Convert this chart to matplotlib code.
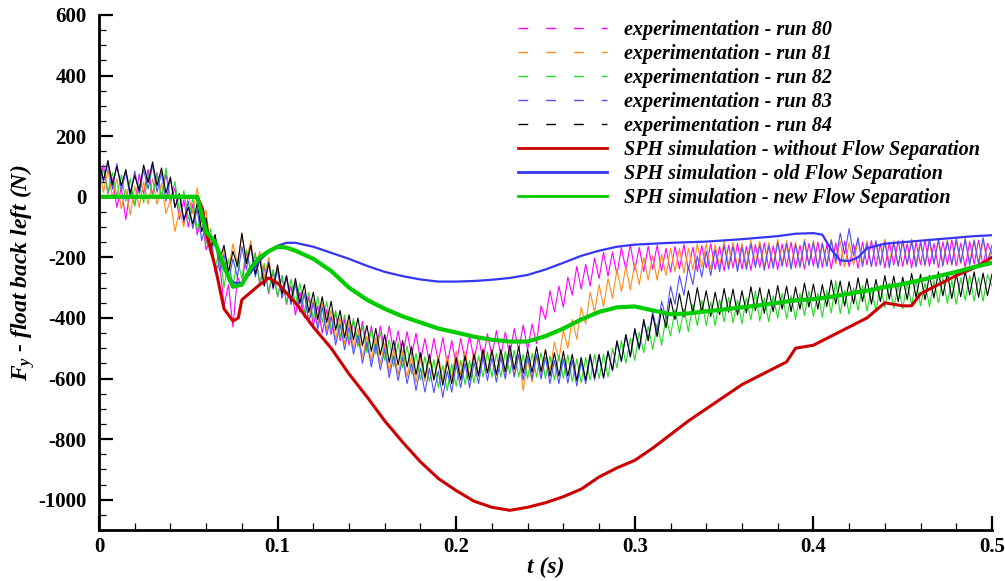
import numpy as np
import matplotlib
matplotlib.use("Agg")
import matplotlib.pyplot as plt
from matplotlib.lines import Line2D
from matplotlib.ticker import MultipleLocator

plt.rcParams["font.family"] = ["Liberation Serif", "DejaVu Serif"]
plt.rcParams["font.weight"] = "bold"
plt.rcParams["axes.unicode_minus"] = False
plt.rcParams["mathtext.fontset"] = "custom"
plt.rcParams["mathtext.it"] = "Liberation Serif:italic:bold"
plt.rcParams["mathtext.rm"] = "Liberation Serif:italic:bold"

# experiment time grid: 0 .. 0.5 s every 0.0025 s (201 samples)
t_exp = np.linspace(0.0, 0.5, 201)

run80 = [35, 105, 10, 60, -35, 30, -75, 25, -30, 75, 10, 90, 5, 80, 0, 75, -20, 30, -75, -10,
         -100, -25, -125, -70, -175, -135, -250, -215, -360, -290, -430, -265, -295, -180, -245, -185, -290, -230, -320, -245,
         -330, -260, -355, -295, -390, -315, -400, -330, -425, -360, -450, -372, -455, -382, -475, -405, -490, -410, -490, -412,
         -500, -427, -510, -427, -505, -427, -515, -443, -525, -445, -525, -450, -540, -468, -550, -467, -545, -465, -550, -475,
         -555, -468, -540, -458, -540, -463, -540, -452, -525, -442, -525, -447, -523, -435, -507, -423, -505, -420, -485, -360,
         -405, -310, -380, -295, -365, -265, -325, -230, -305, -223, -295, -202, -270, -183, -262, -182, -257, -168, -240, -158,
         -242, -167, -247, -163, -239, -160, -245, -170, -249, -164, -238, -158, -242, -167, -246, -161, -235, -155, -240, -165,
         -245, -160, -235, -154, -239, -164, -243, -158, -233, -152, -237, -162, -241, -156, -231, -150, -235, -160, -239, -154,
         -229, -149, -233, -158, -238, -152, -227, -147, -231, -156, -236, -150, -225, -145, -230, -155, -235, -150, -225, -145,
         -230, -155, -235, -150, -224, -144, -229, -154, -234, -149, -223, -143, -228, -153, -233, -148, -223, -143, -228, -153,
         -190]
run81 = [95, 15, 90, 0, 60, -40, 25, -60, 35, -35, 50, -25, 60, -25, 45, -55, -10, -115, -45, -100,
         5, -55, 30, -75, -45, -170, -125, -235, -170, -245, -155, -220, -125, -210, -145, -245, -180, -270, -200, -295,
         -230, -330, -265, -355, -285, -380, -315, -410, -340, -425, -350, -440, -375, -470, -400, -485, -410, -500, -435, -530,
         -460, -542, -465, -552, -485, -577, -505, -587, -510, -595, -525, -613, -535, -610, -525, -603, -525, -607, -525, -598,
         -510, -587, -510, -593, -512, -586, -500, -580, -505, -590, -511, -588, -505, -590, -520, -640, -535, -612, -525, -595,
         -505, -575, -480, -540, -440, -500, -405, -470, -365, -420, -315, -380, -290, -363, -270, -335, -240, -313, -230, -307,
         -220, -290, -200, -275, -195, -275, -190, -260, -170, -247, -170, -252, -170, -242, -155, -233, -155, -239, -158, -232,
         -146, -225, -150, -234, -154, -228, -143, -222, -147, -231, -151, -226, -140, -220, -145, -230, -150, -225, -140, -220,
         -145, -230, -150, -225, -140, -221, -146, -231, -151, -226, -141, -221, -146, -230, -150, -225, -140, -220, -145, -230,
         -150, -225, -139, -219, -144, -229, -148, -223, -138, -218, -142, -227, -147, -222, -136, -216, -141, -226, -145, -220,
         -175]
run82 = [30, 92, 15, 80, 0, 72, -15, 60, -30, 42, -20, 72, 0, 75, -5, 95, -10, 50, -45, 20,
         -75, -5, -110, -55, -155, -105, -235, -175, -300, -205, -295, -205, -270, -175, -245, -185, -285, -220, -315, -240,
         -330, -262, -350, -272, -355, -285, -380, -315, -405, -330, -415, -345, -440, -375, -465, -390, -475, -402, -495, -427,
         -515, -437, -520, -447, -540, -472, -560, -482, -565, -492, -585, -517, -605, -527, -610, -537, -630, -557, -640, -552,
         -625, -540, -620, -540, -615, -525, -595, -512, -595, -517, -595, -510, -585, -507, -595, -520, -600, -517, -595, -515,
         -600, -525, -605, -522, -600, -522, -610, -535, -615, -530, -605, -520, -600, -520, -595, -500, -565, -475, -550, -467,
         -540, -447, -515, -427, -505, -420, -490, -395, -460, -372, -450, -370, -445, -355, -425, -342, -425, -347, -425, -339,
         -413, -332, -416, -340, -419, -333, -407, -311, -410, -334, -413, -327, -401, -319, -403, -326, -405, -318, -392, -311,
         -395, -318, -397, -310, -384, -277, -386, -309, -388, -301, -375, -293, -377, -300, -379, -292, -366, -284, -368, -291,
         -370, -283, -357, -276, -360, -284, -363, -276, -350, -268, -352, -276, -355, -268, -342, -260, -344, -267, -345, -257,
         -295]
run83 = [130, 50, 110, 25, 110, 20, 80, 0, 85, 10, 90, 25, 105, 15, 80, -15, 60, -35, 10, -85,
         -15, -105, -40, -145, -85, -190, -135, -245, -190, -280, -205, -265, -165, -240, -160, -265, -205, -290, -215, -305,
         -240, -335, -265, -355, -285, -380, -320, -417, -350, -437, -365, -457, -395, -490, -420, -505, -430, -520, -455, -550,
         -480, -562, -485, -572, -505, -597, -525, -607, -530, -617, -550, -640, -565, -645, -565, -647, -575, -662, -575, -645,
         -555, -630, -550, -630, -545, -617, -530, -607, -530, -612, -530, -602, -515, -595, -520, -605, -525, -602, -520, -602,
         -530, -617, -540, -617, -535, -615, -540, -625, -545, -617, -530, -605, -525, -600, -510, -575, -480, -545, -455, -530,
         -440, -505, -410, -475, -380, -445, -345, -400, -295, -355, -260, -325, -230, -290, -195, -265, -180, -260, -175, -247,
         -160, -239, -163, -247, -166, -240, -155, -234, -158, -243, -162, -236, -151, -230, -155, -239, -159, -233, -148, -227,
         -152, -236, -155, -230, -144, -215, -120, -190, -105, -195, -135, -230, -155, -230, -145, -225, -149, -234, -153, -228,
         -143, -222, -147, -231, -151, -225, -140, -220, -144, -229, -148, -223, -137, -217, -141, -226, -145, -220, -135, -214,
         -160]
run84 = [115, 55, 120, 40, 100, 37, 90, 12, 70, 20, 105, 47, 115, 37, 95, 12, 65, -35, 10, -75,
         -35, -90, -20, -115, -70, -170, -125, -210, -160, -250, -180, -230, -120, -220, -160, -255, -205, -295, -220, -300,
         -225, -320, -260, -345, -270, -352, -290, -382, -315, -405, -330, -415, -345, -440, -375, -465, -390, -472, -400, -492,
         -425, -510, -435, -522, -455, -547, -475, -555, -475, -562, -495, -587, -515, -597, -520, -605, -535, -622, -545, -617,
         -530, -605, -525, -605, -520, -592, -505, -582, -505, -587, -505, -577, -490, -570, -495, -582, -505, -580, -495, -577,
         -505, -592, -515, -592, -510, -592, -520, -607, -530, -605, -520, -597, -520, -597, -510, -572, -475, -542, -455, -527,
         -435, -500, -405, -475, -390, -462, -370, -432, -335, -405, -320, -397, -310, -385, -300, -382, -310, -395, -315, -389,
         -303, -381, -305, -390, -310, -383, -297, -376, -300, -385, -305, -379, -293, -371, -295, -379, -298, -371, -285, -364,
         -288, -371, -290, -362, -275, -354, -278, -361, -280, -353, -267, -346, -270, -354, -273, -346, -260, -338, -262, -346,
         -265, -339, -253, -332, -256, -340, -260, -334, -248, -327, -252, -336, -255, -330, -245, -324, -248, -332, -252, -326,
         -255]

# SPH simulations
t_red = [0.0, 0.055, 0.058, 0.06, 0.065, 0.07, 0.075, 0.078, 0.08, 0.085, 0.09, 0.095, 0.10,
         0.11, 0.12, 0.13, 0.14, 0.15, 0.16, 0.17, 0.18, 0.19, 0.20, 0.21, 0.22, 0.23, 0.24,
         0.25, 0.26, 0.27, 0.28, 0.29, 0.30, 0.31, 0.32, 0.33, 0.34, 0.35, 0.36, 0.37, 0.38,
         0.385, 0.39, 0.40, 0.41, 0.42, 0.43, 0.44, 0.45, 0.455, 0.46, 0.47, 0.48, 0.49, 0.50]
sph_no_sep = [0, 0, -40, -120, -230, -370, -410, -400, -340, -315, -290, -268, -285,
              -350, -430, -500, -585, -660, -740, -810, -875, -930, -970, -1005, -1025, -1035, -1025,
              -1010, -990, -965, -925, -895, -870, -830, -785, -740, -700, -660, -620, -590, -560,
              -545, -500, -490, -460, -430, -400, -350, -360, -360, -320, -290, -260, -235, -200]

t_blue = [0.0, 0.055, 0.058, 0.06, 0.065, 0.07, 0.075, 0.08, 0.085, 0.09, 0.095, 0.10, 0.105,
          0.11, 0.12, 0.13, 0.14, 0.15, 0.16, 0.17, 0.18, 0.19, 0.20, 0.21, 0.22, 0.23, 0.24,
          0.25, 0.26, 0.27, 0.28, 0.29, 0.30, 0.32, 0.34, 0.36, 0.38, 0.39, 0.40, 0.405, 0.41,
          0.415, 0.42, 0.425, 0.43, 0.44, 0.45, 0.46, 0.47, 0.48, 0.49, 0.50]
sph_old_sep = [0, 0, -70, -115, -150, -240, -283, -285, -250, -210, -182, -162, -152,
               -152, -165, -185, -205, -228, -248, -262, -273, -280, -280, -278, -274, -268, -258,
               -240, -218, -195, -178, -165, -158, -152, -148, -140, -130, -122, -120, -125, -175,
               -210, -212, -200, -170, -155, -150, -145, -140, -135, -130, -127]

t_green = [0.0, 0.055, 0.058, 0.06, 0.065, 0.07, 0.075, 0.08, 0.085, 0.09, 0.095, 0.10, 0.105,
           0.11, 0.12, 0.13, 0.14, 0.15, 0.16, 0.17, 0.18, 0.19, 0.20, 0.21, 0.22, 0.23, 0.24,
           0.25, 0.26, 0.27, 0.28, 0.29, 0.30, 0.31, 0.32, 0.33, 0.34, 0.35, 0.36, 0.37, 0.38,
           0.39, 0.40, 0.41, 0.42, 0.43, 0.44, 0.45, 0.46, 0.47, 0.48, 0.49, 0.50]
sph_new_sep = [0, 0, -70, -115, -150, -230, -297, -290, -235, -200, -180, -165, -168,
               -178, -205, -245, -300, -340, -370, -395, -415, -435, -448, -462, -472, -478, -478,
               -460, -435, -405, -380, -365, -362, -375, -388, -385, -378, -372, -365, -358, -350,
               -342, -338, -330, -320, -310, -298, -288, -275, -262, -248, -232, -218]

exp_runs = [("experimentation - run 80", run80, "#ff00ff"),
            ("experimentation - run 81", run81, "#ff8c1a"),
            ("experimentation - run 82", run82, "#22dd22"),
            ("experimentation - run 83", run83, "#4f4fff"),
            ("experimentation - run 84", run84, "#000000")]
sph_runs = [("SPH simulation - without Flow Separation", t_red, sph_no_sep, "#cc0000", 2.2),
            ("SPH simulation - old Flow Separation", t_blue, sph_old_sep, "#3535f5", 1.6),
            ("SPH simulation - new Flow Separation", t_green, sph_new_sep, "#00cc00", 3.0)]

fig = plt.figure(figsize=(10.05, 5.81), dpi=100)
ax = fig.add_axes([99 / 1005, 51 / 581, 893 / 1005, 515 / 581])

handles = []
for label, vals, col in exp_runs:
    ax.plot(t_exp, vals, color=col, lw=0.8)
    handles.append(Line2D([], [], color=col, lw=1.0, dashes=(7, 13)))
for label, tt, vals, col, lw in sph_runs:
    ax.plot(tt, vals, color=col, lw=lw)
    handles.append(Line2D([], [], color=col, lw=2.0))
labels = [r[0] for r in exp_runs] + [r[0] for r in sph_runs]

ax.set_xlim(0, 0.5)
ax.set_ylim(-1100, 600)
ax.xaxis.set_major_locator(MultipleLocator(0.1))
ax.xaxis.set_minor_locator(MultipleLocator(0.02))
ax.yaxis.set_major_locator(MultipleLocator(200))
ax.yaxis.set_minor_locator(MultipleLocator(50))
ax.xaxis.set_major_formatter(plt.FuncFormatter(lambda v, p: "0" if v == 0 else f"{v:.1f}"))
ax.tick_params(which="major", direction="in", length=10, width=1.6, labelsize=15)
ax.tick_params(axis="x", which="major", pad=5)
ax.tick_params(axis="y", which="major", pad=9)
ax.tick_params(which="minor", direction="in", length=5, width=0.9)
ax.spines["top"].set_visible(False)
ax.spines["right"].set_visible(False)
for s in ("left", "bottom"):
    ax.spines[s].set_linewidth(2.0)
for lab in ax.get_xticklabels() + ax.get_yticklabels():
    lab.set_fontweight("bold")

ax.set_xlabel("t (s)", fontsize=17, fontstyle="italic", fontweight="bold", labelpad=0)
ax.set_ylabel(r"$F_y$ - float back left (N)", fontsize=17, fontstyle="italic",
              fontweight="bold", labelpad=1)

leg = fig.legend(handles, labels, loc="upper left", bbox_to_anchor=(518 / 1005, 1 - 20 / 581),
                 frameon=False, handlelength=4.4, handletextpad=0.85, labelspacing=0.2,
                 borderpad=0, borderaxespad=0,
                 prop={"family": "Liberation Serif", "style": "italic", "weight": "bold", "size": 14.5})

fig.savefig("out.png", dpi=100)
